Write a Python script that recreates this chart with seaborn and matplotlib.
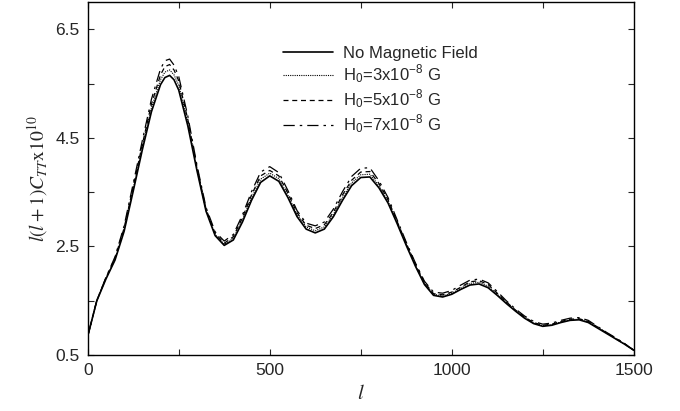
import matplotlib
matplotlib.use("Agg")
import matplotlib.pyplot as plt
import seaborn as sns

# multipole l
ell = [2, 25, 50, 75, 100, 125, 150, 175, 200, 212, 225, 237, 250, 275, 300, 325, 350, 375,
       400, 425, 450, 475, 500, 525, 550, 575, 600, 625, 650, 675, 700, 725, 750,
       775, 800, 825, 850, 875, 900, 925, 950, 975, 1000, 1025, 1050, 1075, 1100,
       1125, 1150, 1175, 1200, 1225, 1250, 1275, 1300, 1325, 1350, 1375, 1400,
       1425, 1450, 1475, 1500]

# l(l+1)C_TT x 1e10
no_field = [0.90, 1.50, 1.90, 2.25, 2.78, 3.52, 4.28, 4.98, 5.48, 5.61, 5.65, 5.57, 5.38, 4.72,
            3.90, 3.15, 2.70, 2.52, 2.62, 2.95, 3.35, 3.68, 3.80, 3.70, 3.40, 3.05,
            2.82, 2.75, 2.82, 3.05, 3.35, 3.62, 3.77, 3.78, 3.58, 3.30, 2.92, 2.52,
            2.14, 1.80, 1.60, 1.57, 1.62, 1.71, 1.79, 1.81, 1.74, 1.60, 1.45, 1.31,
            1.18, 1.08, 1.03, 1.05, 1.10, 1.14, 1.15, 1.10, 1.00, 0.90, 0.80, 0.70, 0.59]
h0_3 = [0.90, 1.50, 1.91, 2.27, 2.81, 3.56, 4.33, 5.05, 5.57, 5.71, 5.75, 5.66, 5.47, 4.78,
        3.93, 3.17, 2.72, 2.54, 2.65, 2.99, 3.40, 3.74, 3.85, 3.75, 3.44, 3.09,
        2.86, 2.79, 2.86, 3.09, 3.40, 3.67, 3.82, 3.83, 3.62, 3.33, 2.94, 2.54,
        2.16, 1.82, 1.62, 1.59, 1.64, 1.73, 1.82, 1.84, 1.77, 1.62, 1.47, 1.32,
        1.19, 1.09, 1.04, 1.06, 1.11, 1.15, 1.16, 1.11, 1.01, 0.91, 0.80, 0.70, 0.59]
h0_5 = [0.90, 1.51, 1.92, 2.29, 2.84, 3.60, 4.38, 5.12, 5.66, 5.81, 5.85, 5.75, 5.55, 4.84,
        3.96, 3.19, 2.74, 2.56, 2.68, 3.03, 3.45, 3.80, 3.90, 3.80, 3.48, 3.12,
        2.89, 2.83, 2.90, 3.13, 3.45, 3.72, 3.87, 3.88, 3.66, 3.36, 2.96, 2.56,
        2.18, 1.84, 1.63, 1.61, 1.66, 1.75, 1.85, 1.87, 1.80, 1.64, 1.48, 1.33,
        1.20, 1.10, 1.05, 1.07, 1.12, 1.16, 1.17, 1.12, 1.02, 0.91, 0.81, 0.71, 0.59]
h0_7 = [0.90, 1.51, 1.93, 2.31, 2.88, 3.66, 4.45, 5.21, 5.77, 5.92, 5.95, 5.84, 5.63, 4.90,
        4.00, 3.22, 2.77, 2.60, 2.72, 3.08, 3.51, 3.87, 3.97, 3.86, 3.53, 3.16,
        2.93, 2.88, 2.95, 3.19, 3.51, 3.79, 3.94, 3.95, 3.71, 3.40, 2.99, 2.58,
        2.20, 1.86, 1.66, 1.64, 1.69, 1.79, 1.88, 1.90, 1.83, 1.67, 1.50, 1.35,
        1.22, 1.12, 1.07, 1.09, 1.14, 1.18, 1.19, 1.14, 1.03, 0.92, 0.82, 0.71, 0.59]

labels = ["No Magnetic Field",
          r"H$_\mathregular{0}$=3x10$^\mathregular{-8}$ G",
          r"H$_\mathregular{0}$=5x10$^\mathregular{-8}$ G",
          r"H$_\mathregular{0}$=7x10$^\mathregular{-8}$ G"]

sns.set_style("ticks")
plt.rcParams["font.family"] = ["Liberation Sans", "DejaVu Sans"]
plt.rcParams["mathtext.fontset"] = "stix"

fig = plt.figure(figsize=(6.8, 4.11), dpi=100)
ax = fig.add_axes([0.129, 0.136, 0.803, 0.859])

series = [no_field, h0_3, h0_5, h0_7]
styles = ["-", (0, (1, 1)), (0, (4, 3)), (0, (9, 4, 2, 4))]
widths = [1.2, 0.8, 0.9, 0.9]
for vals, lab, ls, lw in zip(series, labels, styles, widths):
    sns.lineplot(x=ell, y=vals, ax=ax, color="black", linestyle=ls,
                 linewidth=lw, label=lab)

ax.set_xlim(0, 1500)
ax.set_ylim(0.5, 7.0)
ax.set_xticks([0, 500, 1000, 1500])
ax.set_xticks([250, 750, 1250], minor=True)
ax.set_yticks([0.5, 2.5, 4.5, 6.5])
ax.set_yticks([1.5, 3.5, 5.5], minor=True)
ax.tick_params(which="both", direction="in", top=True, right=True,
               length=4, width=0.8, labelsize=12.5, pad=6)
for sp in ax.spines.values():
    sp.set_linewidth(1.0)
    sp.set_color("black")

ax.set_xlabel(r"$l$", fontsize=15, labelpad=4)
ax.set_ylabel(r"$l(l+1)C_{TT}\mathrm{x}10^{10}$", fontsize=14, labelpad=4)

ax.legend(loc="upper left", bbox_to_anchor=(0.357, 0.875), frameon=False,
          fontsize=12, handlelength=3.0, handletextpad=0.6,
          labelspacing=0.15, borderpad=0, borderaxespad=0)

fig.savefig("out.png", dpi=100)
